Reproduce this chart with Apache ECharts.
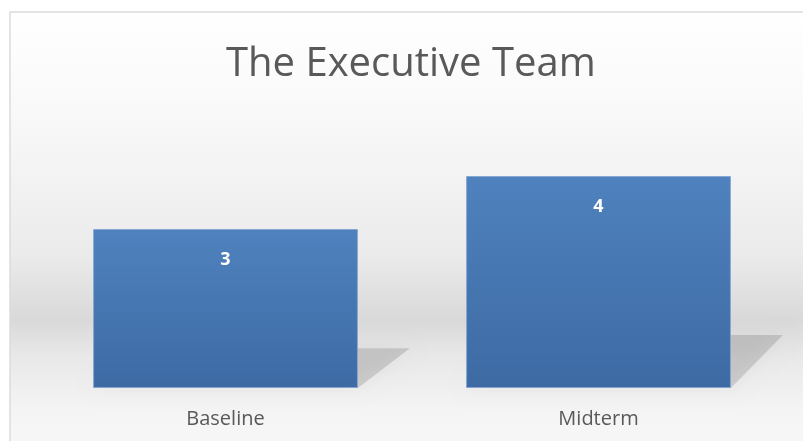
<!DOCTYPE html>
<html>
<head>
<meta charset="utf-8">
<script src="https://cdn.jsdelivr.net/npm/echarts@6/dist/echarts.min.js"></script>
<style>
  html, body { margin: 0; padding: 0; background: #fff; }
</style>
</head>
<body>
<div id="main" style="width: 803px; height: 441px"></div>
<script>
const categories = ["Baseline", "Midterm"];
const values = [3, 4];
const titleText = "The Executive Team";

const barRatio = 0.71;

const chart = echarts.init(document.getElementById("main"));

const option = {
  backgroundColor: "#ffffff",
  animation: false,
  title: {
    text: titleText,
    left: 221,
    top: 40,
    textStyle: {
      fontFamily: "Open Sans",
      fontWeight: 400,
      fontSize: 40,
      color: "#595959",
    },
  },
  graphic: [
    {
      type: "rect",
      z: -10,
      silent: true,
      shape: { x: 10, y: 12, width: 800, height: 440 },
      style: {
        stroke: "#dcdcdc",
        lineWidth: 1.5,
        fill: new echarts.graphic.LinearGradient(0, 0, 0, 1, [
          { offset: 0, color: "#ffffff" },
          { offset: 0.25, color: "#f8f8f8" },
          { offset: 0.55, color: "#ebebeb" },
          { offset: 0.7, color: "#d9d9d9" },
          { offset: 0.78, color: "#e8e8e8" },
          { offset: 0.9, color: "#f4f4f4" },
          { offset: 1, color: "#f8f8f8" },
        ]),
      },
    },
  ],
  grid: {
    left: 39,
    right: 18,
    top: 176,
    bottom: 53,
  },
  xAxis: {
    type: "category",
    data: categories,
    axisLine: { show: false },
    axisTick: { show: false },
    axisLabel: {
      margin: 21,
      fontFamily: "Open Sans",
      fontSize: 20,
      color: "#595959",
    },
  },
  yAxis: {
    type: "value",
    min: 0,
    max: 4,
    show: false,
  },
  series: [
    {
      // skewed floor shadow behind each bar
      type: "custom",
      z: 1,
      silent: true,
      data: values.map((v, i) => [i, v]),
      renderItem(params, api) {
        const base = api.coord([api.value(0), 0]);
        const top = api.coord([api.value(0), api.value(1)]);
        const half = (api.size([1, 0])[0] * barRatio) / 2;
        const h = base[1] - top[1];
        const sh = h * 0.25;
        const dx = 52;
        return {
          type: "polygon",
          shape: {
            points: [
              [base[0] - half, base[1]],
              [base[0] + half, base[1]],
              [base[0] + half + dx, base[1] - sh],
              [base[0] - half + dx, base[1] - sh],
            ],
          },
          style: {
            fill: "rgba(0,0,0,0.13)",
            shadowBlur: 18,
            shadowColor: "rgba(0,0,0,0.3)",
          },
        };
      },
    },
    {
      type: "bar",
      z: 3,
      data: values,
      barWidth: barRatio * 100 + "%",
      itemStyle: {
        color: new echarts.graphic.LinearGradient(0, 0, 0, 1, [
          { offset: 0, color: "#4f82be" },
          { offset: 1, color: "#3d6aa3" },
        ]),
        borderColor: "rgba(130,165,210,0.9)",
        borderWidth: 1,
      },
      label: {
        show: true,
        position: "insideTop",
        distance: 22,
        fontFamily: "Open Sans",
        fontWeight: "bold",
        fontSize: 18,
        color: "#ffffff",
      },
    },
  ],
};

chart.setOption(option);
</script>
</body>
</html>
